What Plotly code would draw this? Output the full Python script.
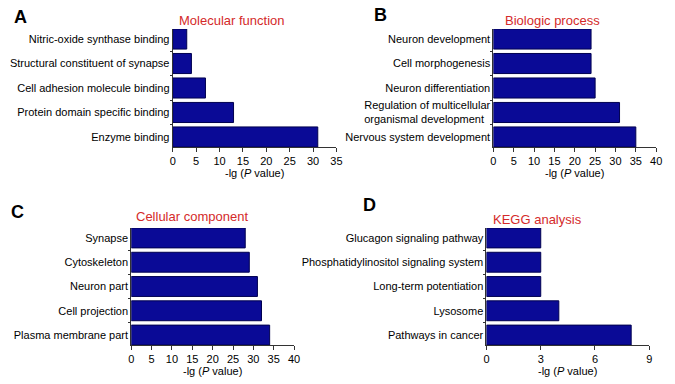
import plotly.graph_objects as go

W, H = 675, 384

# Data (bottom to top order as drawn)
mf_terms = ["Enzyme binding", "Protein domain specific binding", "Cell adhesion molecule binding",
            "Structural constituent of synapse", "Nitric-oxide synthase binding"]
mf_values = [31, 13, 7, 4, 3]

bp_terms = ["Nervous system development", "Regulation of multicellular<br>organismal development\u00a0\u00a0",
            "Neuron differentiation", "Cell morphogenesis", "Neuron development"]
bp_values = [35, 31, 25, 24, 24]

cc_terms = ["Plasma membrane part", "Cell projection", "Neuron part", "Cytoskeleton", "Synapse"]
cc_values = [34, 32, 31, 29, 28]

kegg_terms = ["Pathways in cancer", "Lysosome", "Long-term potentiation",
              "Phosphatidylinositol signaling system", "Glucagon signaling pathway"]
kegg_values = [8, 4, 3, 3, 3]

panels = [
    dict(letter="A", title="Molecular function", terms=mf_terms, values=mf_values,
         xmax=35, dtick=5, box=(172, 338, 29, 147), title_pos=(176, 20), letter_pos=(9, 17)),
    dict(letter="B", title="Biologic process", terms=bp_terms, values=bp_values,
         xmax=40, dtick=5, box=(497, 662, 29, 147), title_pos=(507, 20), letter_pos=(374, 15)),
    dict(letter="C", title="Cellular component", terms=cc_terms, values=cc_values,
         xmax=40, dtick=5, box=(130, 295, 228, 345), title_pos=(133, 216), letter_pos=(6, 212)),
    dict(letter="D", title="KEGG analysis", terms=kegg_terms, values=kegg_values,
         xmax=9, dtick=3, box=(490, 655, 228, 345), title_pos=(495, 219), letter_pos=(363, 205)),
]

FONT = "Liberation Sans, Arial, sans-serif"
BAR = "#0a0a96"
EDGE = "#000050"
RED = "#d42a2a"
GAP = 0.18

fig = go.Figure()
annotations = []
layout_axes = {}

def px(x):
    return x / W

def py(y):
    return 1 - y / H

for i, p in enumerate(panels):
    n = i + 1
    xa = "x" if n == 1 else f"x{n}"
    ya = "y" if n == 1 else f"y{n}"
    xkey = "xaxis" if n == 1 else f"xaxis{n}"
    ykey = "yaxis" if n == 1 else f"yaxis{n}"
    x0, x1, yt, yb = p["box"]
    fig.add_trace(go.Bar(
        x=p["values"], y=p["terms"], orientation="h", xaxis=xa, yaxis=ya,
        marker=dict(color=BAR, line=dict(color=EDGE, width=1)),
        width=1 - GAP, showlegend=False,
    ))
    layout_axes[xkey] = dict(
        domain=[px(x0), px(x1)], anchor=ya, range=[0, p["xmax"]], dtick=p["dtick"],
        tick0=0, showgrid=False, zeroline=False, showline=True, linecolor="#333",
        linewidth=1, ticks="outside", ticklen=4, tickcolor="#333",
        tickfont=dict(family=FONT, size=11, color="#000"),
    )
    layout_axes[ykey] = dict(
        domain=[py(yb), py(yt)], anchor=xa, type="category",
        range=[-0.5 + GAP / 2, 4.5 - GAP / 2], showgrid=False, zeroline=False,
        showline=True, linecolor="#333", linewidth=1, ticks="outside",
        tickson="boundaries", ticklen=2, tickcolor="#333",
        tickfont=dict(family=FONT, size=11, color="#000"),
    )
    # axis title
    annotations.append(dict(
        text="-lg (<i>P</i> value)", xref="paper", yref="paper",
        x=px((x0 + x1) / 2), y=py(yb + 26), xanchor="center", yanchor="middle",
        showarrow=False, font=dict(family=FONT, size=11, color="#000"),
    ))
    # panel title
    annotations.append(dict(
        text=p["title"], xref="paper", yref="paper",
        x=px(p["title_pos"][0]), y=py(p["title_pos"][1]), xanchor="left", yanchor="middle",
        showarrow=False, font=dict(family=FONT, size=13, color=RED),
    ))
    # panel letter
    annotations.append(dict(
        text="<b>" + p["letter"] + "</b>", xref="paper", yref="paper",
        x=px(p["letter_pos"][0]), y=py(p["letter_pos"][1]), xanchor="left", yanchor="middle",
        showarrow=False, font=dict(family=FONT, size=18, color="#000"),
    ))

fig.update_layout(
    width=W, height=H, autosize=False,
    margin=dict(l=0, r=0, t=0, b=0),
    paper_bgcolor="white", plot_bgcolor="white",
    annotations=annotations, bargap=GAP,
    **layout_axes,
)

fig.write_html("out.html", config={"displayModeBar": False},
               post_script="document.body.style.margin='0';document.body.style.overflow='hidden';")
